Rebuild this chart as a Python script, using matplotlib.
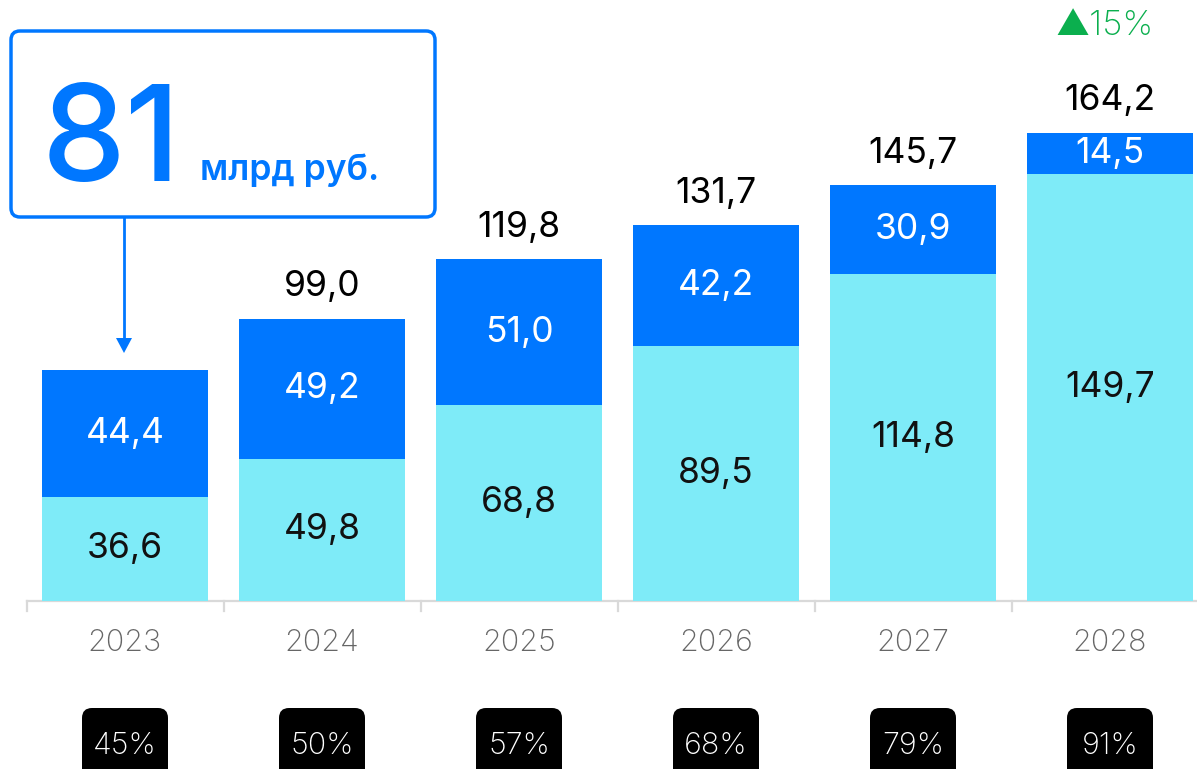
import matplotlib
matplotlib.use("Agg")
import matplotlib.pyplot as plt
from matplotlib.patches import FancyBboxPatch, Polygon

# ---------------- data ----------------
years = ["2023", "2024", "2025", "2026", "2027", "2028"]
lower_vals = [36.6, 49.8, 68.8, 89.5, 114.8, 149.7]
upper_vals = [44.4, 49.2, 51.0, 42.2, 30.9, 14.5]
show_total = [False, True, True, True, True, True]
shares = ["45%", "50%", "57%", "68%", "79%", "91%"]
growth_label = "▲15%"
callout_value = "81"
callout_unit = "млрд руб."

# ---------------- style ----------------
plt.rcParams["font.family"] = ["Inter", "DejaVu Sans"]
BLUE = "#0077FF"
CYAN = "#7EEBF8"
GREEN = "#0BAF4E"
GRAY = "#666666"
AXIS = "#D9D9D9"

W, H = 1197, 769
fig = plt.figure(figsize=(W / 100, H / 100), dpi=100)
ax = fig.add_axes([0, 0, 1, 1])

# layout (pixels)
x0px, step = 125.0, 197.0
scale = 2.852           # px per unit
base_from_top = 601.0
ax.set_xlim(-x0px / step, (W - x0px) / step)
ax.set_ylim(-(H - base_from_top) / scale, base_from_top / scale)
ax.axis("off")

def fmt(v):
    return f"{v:.1f}".replace(".", ",")

xs = list(range(len(years)))
width = 166 / step
ax.bar(xs, lower_vals, width=width, color=CYAN, zorder=2)
ax.bar(xs, upper_vals, width=width, bottom=lower_vals, color=BLUE, zorder=2)

# axis line and ticks
xr = (W - x0px) / step
ax.plot([-0.5, xr], [0, 0], color=AXIS, lw=1.6, zorder=1, clip_on=False)
for i in range(len(years) + 1):
    ax.plot([i - 0.5, i - 0.5], [0, -10 / scale], color=AXIS, lw=1.6, zorder=1)

VAL_FS = 25.5
for i, (lo, up) in enumerate(zip(lower_vals, upper_vals)):
    ax.text(i, lo / 2, fmt(lo), ha="center", va="center", fontsize=VAL_FS,
            color="#111111", zorder=3)
    ax.text(i, lo + up / 2, fmt(up), ha="center", va="center", fontsize=VAL_FS,
            color="white", zorder=3)
    if show_total[i]:
        ax.annotate(fmt(lo + up), xy=(i, lo + up), xytext=(0, 32),
                    textcoords="offset pixels", ha="center", va="center",
                    fontsize=VAL_FS, color="black")
    ax.annotate(years[i], xy=(i, 0), xytext=(0, -42), textcoords="offset pixels",
                ha="center", va="center", fontsize=22, color=GRAY,
                fontweight="light")

# ---------------- overlay in pixel coordinates ----------------
ov = fig.add_axes([0, 0, 1, 1], zorder=3)
ov.set_xlim(0, W)
ov.set_ylim(H, 0)
ov.axis("off")
ov.patch.set_alpha(0)

# callout
box = FancyBboxPatch((11, 31), 424, 186, boxstyle="round,pad=0,rounding_size=9",
                     fc="white", ec=BLUE, lw=2.5)
ov.add_patch(box)
ov.text(42, 181, callout_value, ha="left", va="baseline", fontsize=96,
        color=BLUE, fontweight="medium")
ov.text(200, 180, callout_unit, ha="left", va="baseline", fontsize=25.5,
        color=BLUE, fontweight="semibold")
ov.plot([124, 124], [217, 340], color=BLUE, lw=2)
ov.add_patch(Polygon([(116, 338), (132, 338), (124, 353)], closed=True,
                     fc=BLUE, ec="none"))

# growth label
ov.text(1055, 26, growth_label, ha="left", va="center", fontsize=25, color=GREEN,
        fontweight="light")

# badges
for i, s in enumerate(shares):
    cx = ax.transData.transform((i, 0))[0]
    ov.add_patch(FancyBboxPatch((cx - 43, 708), 86, 90,
                                boxstyle="round,pad=0,rounding_size=10",
                                fc="black", ec="none"))
    ov.text(cx, 746, s, ha="center", va="center", fontsize=22, color="white",
            fontweight="light")

fig.savefig("out.png", dpi=100)
